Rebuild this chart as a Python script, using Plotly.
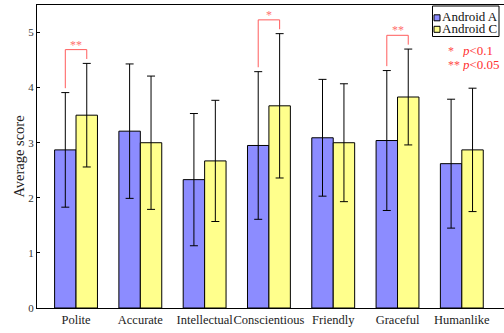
import plotly.graph_objects as go

categories = ["Polite", "Accurate", "Intellectual", "Conscientious", "Friendly", "Graceful", "Humanlike"]
android_a = [2.87, 3.21, 2.33, 2.95, 3.09, 3.04, 2.62]
android_a_err = [1.04, 1.22, 1.20, 1.34, 1.06, 1.27, 1.17]
android_c = [3.50, 3.00, 2.67, 3.67, 3.00, 3.83, 2.87]
android_c_err = [0.94, 1.21, 1.10, 1.31, 1.07, 0.87, 1.12]
series_names = ["Android A", "Android C"]
series_colors = ["#8c8cff", "#ffff8c"]
# significance: (category index, label)
sig_marks = [(0, "**"), (3, "*"), (5, "**")]
p_stars = ["*", "**"]
p_texts = ["<i>p</i>&lt;0.1", "<i>p</i>&lt;0.05"]
yticks = [0, 1, 2, 3, 4, 5]

FONT = "Liberation Serif"
W, H = 504, 333
ML, MR, MT, MB = 37, 0, 5, 25
PW, PH = W - ML - MR, H - MT - MB


def px(xp):
    return (xp - ML) / PW


def py(yp):
    return (H - MB - yp) / PH


x = list(range(len(categories)))

fig = go.Figure()
for name, vals, errs, col in [(series_names[0], android_a, android_a_err, series_colors[0]),
                              (series_names[1], android_c, android_c_err, series_colors[1])]:
    fig.add_trace(go.Bar(
        x=x, y=vals, name=name,
        marker=dict(color=col, line=dict(color="#000000", width=1)),
        error_y=dict(type="data", array=errs, color="#000000", thickness=1, width=4),
    ))

off = 1 / 6
for idx, lab in sig_marks:
    top_a = android_a[idx] + android_a_err[idx]
    top_c = android_c[idx] + android_c_err[idx]
    ytop = max(top_a, top_c) + 0.25
    xa, xc = idx - off, idx + off
    fig.add_shape(type="path", xref="x", yref="y",
                  path=f"M {xa} {top_a + 0.08} L {xa} {ytop} L {xc} {ytop} L {xc} {top_c + 0.08}",
                  line=dict(color="#ff5c5c", width=1))
    fig.add_annotation(x=idx, y=ytop, xref="x", yref="y", text=lab, showarrow=False,
                       yanchor="bottom", yshift=-4,
                       font=dict(family=FONT, size=12, color="#ff6e6e"))

# manual legend box
fig.add_shape(type="rect", xref="paper", yref="paper",
              x0=px(432.5), x1=px(499), y0=py(36.5), y1=py(6),
              line=dict(color="#000000", width=1), fillcolor="white")
for i, (name, col) in enumerate(zip(series_names, series_colors)):
    cy = 16.8 + i * 11.5
    fig.add_shape(type="rect", xref="paper", yref="paper",
                  x0=px(434), x1=px(440), y0=py(cy + 4), y1=py(cy - 2),
                  line=dict(color="#000000", width=1), fillcolor=col)
    fig.add_annotation(x=px(440.5), y=py(cy), xref="paper", yref="paper", xanchor="left",
                       yanchor="middle", showarrow=False, text=name, borderpad=0,
                       height=11, valign="middle",
                       font=dict(family=FONT, size=13, color="#111111"))

for i, (st, pt) in enumerate(zip(p_stars, p_texts)):
    cy = 51 + i * 13.5
    fig.add_annotation(x=px(447), y=py(cy), xref="paper", yref="paper", xanchor="left",
                       yanchor="middle", showarrow=False, text=st, borderpad=0,
                       height=12, valign="middle",
                       font=dict(family=FONT, size=12, color="#ff4a4a"))
    fig.add_annotation(x=px(460.5), y=py(cy), xref="paper", yref="paper", xanchor="left",
                       yanchor="middle", showarrow=False, text=pt, borderpad=0,
                       height=13, valign="middle",
                       font=dict(family=FONT, size=13, color="#ff3030"))

fig.update_layout(
    width=W, height=H,
    margin=dict(l=ML, r=MR, t=MT, b=MB),
    paper_bgcolor="white", plot_bgcolor="white",
    barmode="group", bargap=1/3, bargroupgap=0,
    font=dict(family=FONT, size=12, color="#222222"),
    showlegend=False,
    xaxis=dict(tickmode="array", tickvals=x, ticktext=categories, tickangle=0, automargin=False,
               range=[-0.607, 6.656], showline=True, linecolor="#000000", linewidth=1,
               mirror=True, ticks="", showgrid=False, zeroline=False,
               tickfont=dict(family=FONT, size=12.5, color="#222222")),
    yaxis=dict(range=[0, 5.5], tickvals=yticks, showline=True, linecolor="#000000", linewidth=1,
               automargin=False,
               ticks="inside", ticklen=3, tickcolor="#000000", showgrid=False, zeroline=False,
               title=dict(text="Average score", font=dict(family=FONT, size=14.5, color="#222222"), standoff=0),
               tickfont=dict(family=FONT, size=11, color="#333333")),
)

fig.write_html("out.html")
